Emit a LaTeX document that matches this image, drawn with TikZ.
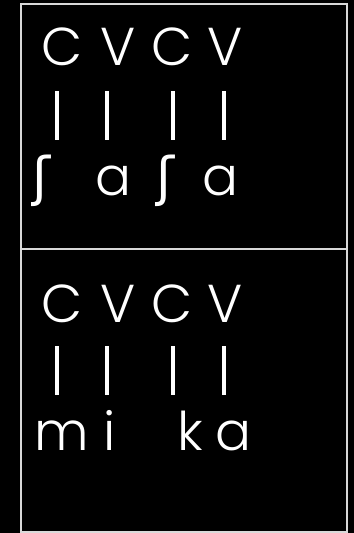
\documentclass[tikz,border=0pt]{standalone}
\usepackage{fontspec}
\setmainfont{Poppins}[UprightFont=* Light]
\newfontfamily\ipafont{DejaVu Sans}
\usetikzlibrary{positioning}
\tikzset{
  seg/.style={anchor=base, text=white, font=\fontsize{40}{40}\selectfont, inner sep=0pt},
  ipa/.style={anchor=base, text=white, font=\fontsize{40}{40}\selectfont\ipafont, inner sep=0pt},
  assoc/.style={white, line width=2.4pt},
  frame/.style={draw=white!85!black, line width=1.5pt},
}
\begin{document}
\begin{tikzpicture}[x=0.75pt, y=-0.75pt]
\fill[black] (0,0) rectangle (354,533);
\useasboundingbox (0,0) rectangle (354,533);
% frame, two cells
\draw[frame] (21,4) rectangle (347,532);
\draw[frame] (21,249) -- (347,249);
% upper cell: CVCV over sasa
\node[seg] (c1) at (62,65) {C};
\node[seg] (v1) at (118,65) {V};
\node[seg] (c2) at (172,65) {C};
\node[seg] (v2) at (225,65) {V};
\node[ipa] (s1) at (41,195) {ʃ};
\node[seg] (a1) at (113,195) {a};
\node[ipa] (s2) at (165,195) {ʃ};
\node[seg] (a2) at (220,195) {a};
\coordinate (t1) at (57,91);  \coordinate (b1) at (57,140);
\coordinate (t2) at (107,91); \coordinate (b2) at (107,140);
\coordinate (t3) at (173,91); \coordinate (b3) at (173,140);
\coordinate (t4) at (224,91); \coordinate (b4) at (224,140);
\foreach \i in {1,...,4} \draw[assoc] (t\i) -- (b\i);
% lower cell: CVCV over mika
\node[seg] (c3) at (62,322) {C};
\node[seg] (v3) at (118,322) {V};
\node[seg] (c4) at (172,322) {C};
\node[seg] (v4) at (225,322) {V};
\node[seg] (m) at (62,450) {m};
\node[seg] (i) at (110,450) {i};
\node[seg] (k) at (190,450) {k};
\node[seg] (a3) at (233,450) {a};
\coordinate (u1) at (57,346);  \coordinate (d1) at (57,395);
\coordinate (u2) at (107,346); \coordinate (d2) at (107,395);
\coordinate (u3) at (173,346); \coordinate (d3) at (173,395);
\coordinate (u4) at (224,346); \coordinate (d4) at (224,395);
\foreach \i in {1,...,4} \draw[assoc] (u\i) -- (d\i);
\end{tikzpicture}
\end{document}
